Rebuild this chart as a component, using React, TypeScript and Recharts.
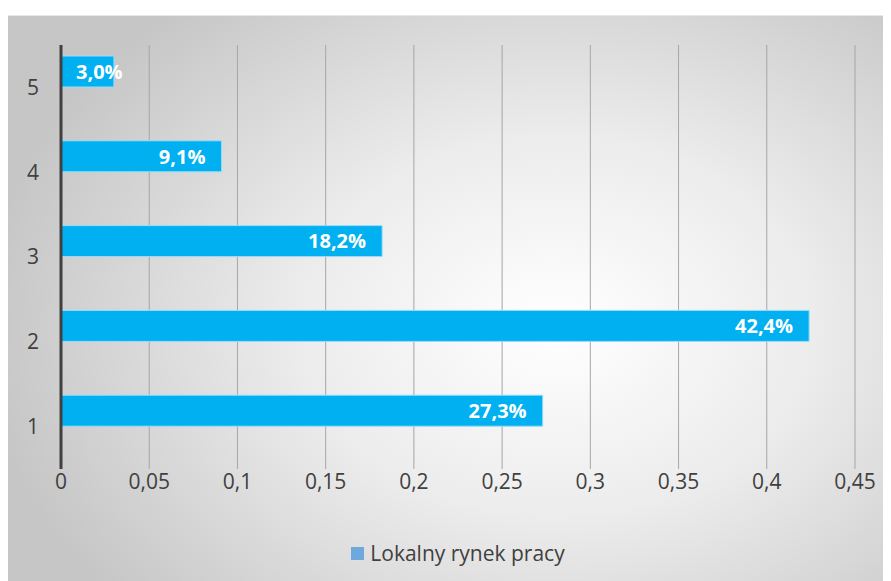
import React from "react";
import { BarChart, Bar, XAxis, YAxis, CartesianGrid, LabelList, Legend } from "recharts";

const categories = ["1", "2", "3", "4", "5"];
const shares = [0.273, 0.424, 0.182, 0.091, 0.03];
const labels = ["27,3%", "42,4%", "18,2%", "9,1%", "3,0%"];
const emptySeries = [null, null, null, null, null];
const xTicks = [0, 0.05, 0.1, 0.15, 0.2, 0.25, 0.3, 0.35, 0.4, 0.45];
const seriesName = "Lokalny rynek pracy";

const data = categories.map((c, i) => ({ cat: c, value: shares[i], label: labels[i], empty: emptySeries[i] }));

const FONT = "'Open Sans', sans-serif";

const fmt = (v: number) => String(v).replace(".", ",");

const textWidth = (s: string) => {
  let w = 0;
  for (const ch of s) {
    if (ch === ",") w += 5.4;
    else if (ch === "%") w += 17.5;
    else w += 11.4;
  }
  return w;
};

const BarLabel = (props: any) => {
  const { x, y, width, height, value } = props;
  const s = String(value);
  const w = textWidth(s);
  const start = Math.max(x + width - 17 - w, x + 15);
  return (
    <text
      x={start}
      y={y + height / 2}
      dy="0.36em"
      textAnchor="start"
      fontFamily={FONT}
      fontSize={20}
      fontWeight={700}
      fill="#ffffff"
    >
      {s}
    </text>
  );
};

const LegendContent = () => (
  <div style={{ height: 48, paddingLeft: 53, display: "flex", justifyContent: "center", alignItems: "center", fontFamily: FONT, fontSize: 21, color: "#404040" }}>
    <span style={{ display: "inline-block", width: 13, height: 13, background: "#6FA8DC", marginRight: 6 }} />
    <span>{seriesName}</span>
  </div>
);

export default function App() {
  return (
    <div
      style={{
        marginTop: 7,
        width: 883,
        height: 566,
        background: "radial-gradient(ellipse 65% 75% at 62% 55%, #ffffff 0%, #ececec 45%, #c6c6c6 100%)",
        borderTop: "1px solid #e8e8e8",
        boxSizing: "border-box",
      }}
    >
      <BarChart
        width={883}
        height={565}
        data={data}
        layout="vertical"
        margin={{ top: 29, right: 36, bottom: 0, left: 0 }}
        barGap={0}
        barCategoryGap={11}
      >
        <CartesianGrid horizontal={false} vertical={true} stroke="#a6a6a6" strokeWidth={1} />
        <XAxis
          type="number"
          domain={[0, 0.45]}
          ticks={xTicks}
          tickFormatter={fmt}
          axisLine={false}
          tickLine={false}
          tickSize={0}
          tickMargin={5}
          tick={{ fontFamily: FONT, fontSize: 21, fill: "#404040" }}
          height={60}
          interval={0}
        />
        <YAxis
          type="category"
          dataKey="cat"
          reversed
          width={53}
          axisLine={{ stroke: "#404040", strokeWidth: 3 }}
          tickLine={false}
          tickSize={0}
          tickMargin={22}
          tick={{ fontFamily: FONT, fontSize: 21, fill: "#404040" }}
        />
        <Legend verticalAlign="bottom" height={52} content={<LegendContent />} />
        <Bar dataKey="value" name={seriesName} fill="#00B0F0" stroke="#9ADDF7" strokeWidth={1} barSize={31} isAnimationActive={false}>
          <LabelList dataKey="label" content={<BarLabel />} />
        </Bar>
        <Bar dataKey="empty" name="" fill="transparent" barSize={31} isAnimationActive={false} legendType="none" />
      </BarChart>
    </div>
  );
}
